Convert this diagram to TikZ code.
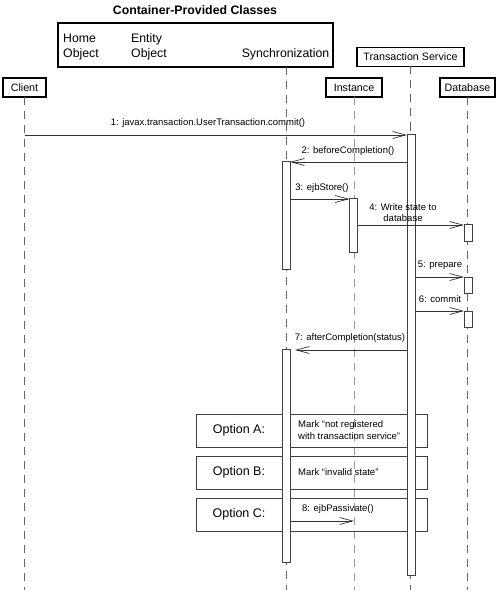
\documentclass[tikz,border=0pt]{standalone}
\usepackage{fontspec}
\setmainfont{Liberation Sans}
\usetikzlibrary{arrows.meta}
\begin{document}
\begin{tikzpicture}[x=1pt,y=-1pt,
  hdr/.style={draw, line width=1.3pt, inner sep=0pt, outer sep=0pt, font=\fontsize{10.7}{12}\selectfont},
  life/.style={draw=black!60, line width=0.9pt, dash pattern=on 8pt off 6pt},
  lifelight/.style={draw=black!40, line width=0.9pt, dash pattern=on 8pt off 6pt},
  act/.style={draw=black!75, fill=white, line width=0.7pt, minimum width=8pt, inner sep=0pt, outer sep=0pt},
  msg/.style={draw=black!80, line width=0.7pt, -{Straight Barb[length=13pt,width=7pt,line width=0.7pt]}},
  lbl/.style={font=\fontsize{9.5}{11.5}\selectfont, inner sep=0pt},
  opt/.style={draw=black!75, line width=0.8pt, minimum width=231pt, minimum height=33pt, inner sep=0pt, outer sep=0pt},
  optlbl/.style={font=\fontsize{12.5}{14}\selectfont, inner sep=0pt},
  boxtxt/.style={font=\fontsize{12.3}{15}\selectfont, inner sep=0pt, align=left}
]
\useasboundingbox (0,0) rectangle (500,599);
% title
\node[font=\bfseries\fontsize{12.3}{14}\selectfont, inner sep=0pt] (title) at (195,10) {Container-Provided Classes};
% headers
\node[hdr, minimum width=275pt, minimum height=44pt] (cont) at (195.5,45) {};
\node[boxtxt, anchor=west] (home) at (63,47) {Home\\Object};
\node[boxtxt, anchor=west] (entity) at (131,47) {Entity\\Object};
\node[boxtxt, anchor=east] (syncl) at (329.5,54) {Synchronization};
\node[hdr, minimum width=107pt, minimum height=19pt] (ts) at (410.5,57) {Transaction Service};
\node[hdr, minimum width=43pt, minimum height=19pt] (client) at (24.5,87.5) {Client};
\node[hdr, minimum width=56pt, minimum height=19pt] (inst) at (354,87.5) {Instance};
\node[hdr, minimum width=55pt, minimum height=19pt] (db) at (467.5,87.5) {Database};
% coordinates
\coordinate (bot) at (0,590);
\coordinate (synctop) at (286,67);
\coordinate (m1) at (0,135);
\coordinate (m2) at (0,162);
\coordinate (m3) at (0,199);
\coordinate (m4) at (0,225);
\coordinate (m5) at (0,277);
\coordinate (m6) at (0,311);
\coordinate (m7) at (0,350);
\coordinate (m8) at (0,521);
% lifelines
\draw[life] (client.south) -- (client.south |- bot);
\draw[life] (synctop) -- (synctop |- bot);
\draw[lifelight] (inst.south) -- (inst.south |- bot);
\draw[life] (ts.south) -- (ts.south |- bot);
\draw[life] (db.south) -- (db.south |- bot);
% option boxes
\node[opt] (optA) at (311.5,430.5) {};
\node[opt] (optB) at (311.5,472.5) {};
\node[opt] (optC) at (311.5,514.5) {};
\node[optlbl] (oA) at (239,430) {Option A:};
\node[optlbl] (oB) at (239,472) {Option B:};
\node[optlbl] (oC) at (239,514) {Option C:};
\node[lbl, anchor=west, align=left] (markA) at (298,430) {Mark “not registered\\with transaction service”};
\node[lbl, anchor=west] (markB) at (298,472) {Mark “invalid state”};
% activation bars
\node[act, minimum height=441pt] (tsA) at (411,354.5) {};
\node[act, minimum height=108pt] (syncA) at (286,215) {};
\node[act, minimum height=213pt] (syncB) at (286,455.5) {};
\node[act, minimum height=54pt] (instA) at (353.5,225) {};
\node[act, minimum height=17pt] (db1) at (468,232.5) {};
\node[act, minimum height=16pt] (db2) at (468,285) {};
\node[act, minimum height=16pt] (db3) at (468,319) {};
% messages
\draw[msg] (client.south |- m1) -- (tsA.west |- m1);
\node[lbl] (l1) at (208,123) {1: javax.transaction.UserTransaction.commit()};
\draw[msg] (tsA.west |- m2) -- (syncA.east |- m2);
\node[lbl] (l2) at (348,151) {2: beforeCompletion()};
\draw[msg] (syncA.east |- m3) -- (instA.west |- m3);
\node[lbl] (l3) at (322,188) {3: ejbStore()};
\draw[msg] (instA.east |- m4) -- (db1.west |- m4);
\node[lbl, align=center] (l4) at (403,212.5) {4: Write state to\\database};
\draw[msg] (tsA.east |- m5) -- (db2.west |- m5);
\node[lbl] (l5) at (440,265) {5: prepare};
\draw[msg] (tsA.east |- m6) -- (db3.west |- m6);
\node[lbl] (l6) at (440,299) {6: commit};
\draw[msg] (tsA.west |- m7) -- ([xshift=5pt]syncB.east |- m7);
\node[lbl] (l7) at (350,338) {7: afterCompletion(status)};
\draw[msg] (syncB.east |- m8) -- (inst.south |- m8);
\node[lbl] (l8) at (338,509) {8: ejbPassivate()};
\end{tikzpicture}
\end{document}
